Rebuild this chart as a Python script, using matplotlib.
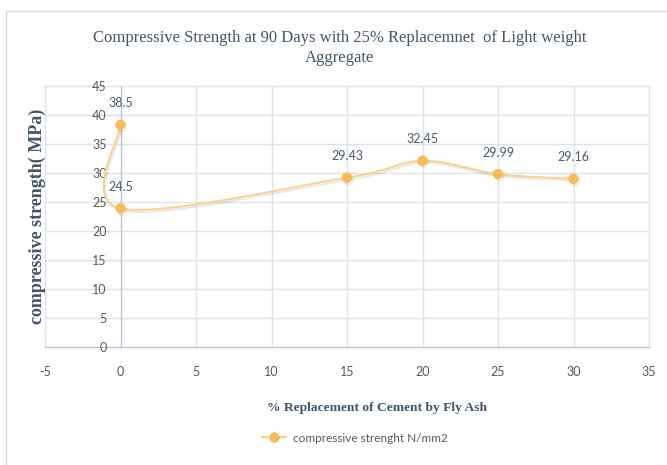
import matplotlib
matplotlib.use("Agg")
import matplotlib.pyplot as plt
import numpy as np
from matplotlib.path import Path
from matplotlib.patches import PathPatch, Rectangle
from matplotlib.lines import Line2D
import matplotlib.patheffects as pe

plt.rcParams["axes.unicode_minus"] = False

# ---- data ----
replacement = [0, 0, 15, 20, 25, 30]
strength = [38.3, 23.9, 29.2, 32.1, 29.8, 29.0]
point_labels = ["38.5", "24.5", "29.43", "32.45", "29.99", "29.16"]
x_ticks = [-5, 0, 5, 10, 15, 20, 25, 30, 35]
y_ticks = [0, 5, 10, 15, 20, 25, 30, 35, 40, 45]
title = "Compressive Strength at 90 Days with 25% Replacemnet  of Light weight\nAggregate"
x_label = "% Replacement of Cement by Fly Ash"
y_label = "compressive strength( MPa)"
series_name = "compressive strenght N/mm2"

W, H = 667, 465
fig = plt.figure(figsize=(W / 100, H / 100), dpi=100)
fig.patch.set_facecolor("white")

# chart border
fig.add_artist(Rectangle((6 / W, 0 - 0.02), 1.1, (H - 11) / H + 0.02,
                         transform=fig.transFigure, fill=False,
                         edgecolor="#D9D9D9", lw=1.0))

ax = fig.add_axes([45 / W, 1 - 347 / H, (649 - 45) / W, (347 - 86) / H])
ax.set_xlim(x_ticks[0], x_ticks[-1])
ax.set_ylim(y_ticks[0], y_ticks[-1])
ax.set_xticks(x_ticks)
ax.set_yticks(y_ticks)

grid_c = "#DEE2EB"
axis_c = "#B8C1D1"
for v in x_ticks:
    ax.axvline(v, color=grid_c, lw=1.0, zorder=0, clip_on=False)
for v in y_ticks:
    ax.axhline(v, color=grid_c, lw=1.0, zorder=0, clip_on=False)

for s in ["top", "right"]:
    ax.spines[s].set_visible(False)
ax.spines["left"].set_position(("data", 0))
ax.spines["left"].set_color(axis_c)
ax.spines["bottom"].set_color(axis_c)
ax.spines["left"].set_zorder(1)
ax.spines["bottom"].set_zorder(1)

ax.tick_params(axis="y", length=0, pad=10, labelcolor="#595959")
ax.tick_params(axis="x", length=0, pad=14, labelcolor="#595959")
for lbl in ax.get_xticklabels() + ax.get_yticklabels():
    lbl.set_fontfamily("Lato")
    lbl.set_fontsize(9)

# Excel-like smoothed line (cubic Bezier, tension 1/6)
pts = np.column_stack([replacement, strength]).astype(float)
n = len(pts)
verts = [tuple(pts[0])]
codes = [Path.MOVETO]
for i in range(n - 1):
    p_prev = pts[i - 1] if i > 0 else pts[i]
    p0 = pts[i]
    p1 = pts[i + 1]
    p_next = pts[i + 2] if i + 2 < n else pts[i + 1]
    c1 = p0 + (p1 - p_prev) / 6.0
    c2 = p1 - (p_next - p0) / 6.0
    verts += [tuple(c1), tuple(c2), tuple(p1)]
    codes += [Path.CURVE4] * 3
line_c = "#FAD08C"
shadow = [pe.SimpleLineShadow(offset=(1.0, -1.5), alpha=0.09, rho=0.4), pe.Normal()]
patch = PathPatch(Path(verts, codes), facecolor="none", edgecolor=line_c,
                  lw=1.4, zorder=3, path_effects=shadow)
ax.add_patch(patch)

marker_c = "#F5BC58"
ax.plot(replacement, strength, linestyle="none", marker="o", markersize=6.5,
        color=marker_c, zorder=4, path_effects=shadow)

for xv, yv, t in zip(replacement, strength, point_labels):
    ax.annotate(t, (xv, yv), xytext=(0, 15.5), textcoords="offset points",
                ha="center", va="center", fontsize=9, family="Lato",
                color="#505A6A", zorder=5)

title_c = "#44546A"
fig.text(340 / W, 1 - 48 / H, title, ha="center", va="center",
         fontsize=12, family="Liberation Serif", color=title_c,
         linespacing=1.3)

fig.text(377 / W, 1 - 408 / H, x_label, ha="center", va="center",
         fontsize=9.7, family="Liberation Serif", fontweight="bold", color=title_c)
fig.text(37 / W, 1 - 216 / H, y_label, ha="center", va="center", rotation=90,
         fontsize=13, family="Liberation Serif", fontweight="bold", color=title_c)

handle = Line2D([], [], color=line_c, lw=1.4, marker="o", markersize=6.5,
                markerfacecolor=marker_c, markeredgecolor=marker_c)
leg = fig.legend([handle], [series_name], loc="center",
                 bbox_to_anchor=(355 / W, 1 - 438 / H), frameon=False,
                 prop=dict(family="Lato", size=8.5), handlelength=2.0,
                 handletextpad=0.6)
for t in leg.get_texts():
    t.set_color("#595959")

fig.savefig("out.png", dpi=100)
